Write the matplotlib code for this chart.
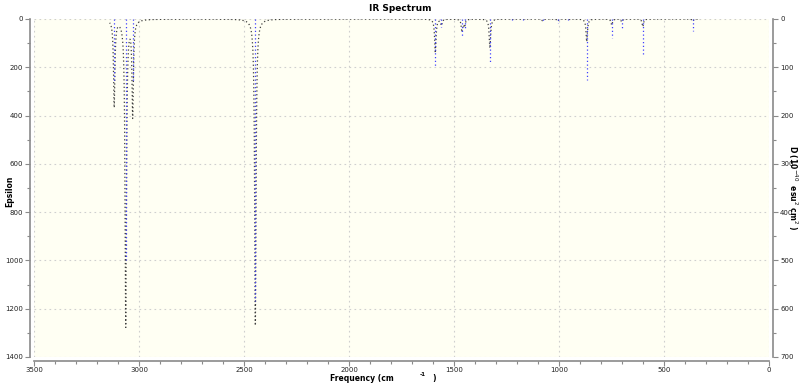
import numpy as np
import matplotlib
matplotlib.use("Agg")
import matplotlib.pyplot as plt
from matplotlib.ticker import MultipleLocator

# Broadened spectrum: peak positions (cm^-1) and peak epsilon (left axis)
curve_freq = [3118, 3063, 3030, 2446, 1589, 1560, 1462, 1450, 1329, 1225,
              1173, 1078, 1006, 955, 868, 749, 701, 601, 363]
curve_eps = [360, 1270, 393, 1270, 140, 25, 52, 30, 120, 3,
             3, 8, 10, 3, 94, 25, 12, 32, 10]
hwhm = 4.0
curve_range = [340, 3140]

# Stick spectrum: frequencies and dipole strengths (right axis)
stick_freq = [3118, 3063, 3030, 2446, 1589, 1560, 1462, 1450, 1329, 1225,
              1173, 1078, 1006, 955, 868, 749, 701, 601, 363]
stick_int = [130, 500, 130, 585, 99, 16, 37, 22, 92, 2,
             2, 6, 8, 2, 126, 40, 19, 74, 25]

fig = plt.figure(figsize=(8.0, 3.83), dpi=100)
ax = fig.add_axes([0.0425, 0.068, 0.9188, 0.8824])
ax.set_facecolor("#fffff3")

x = np.arange(curve_range[0], curve_range[1], 0.25)
y = np.zeros_like(x)
for f, e in zip(curve_freq, curve_eps):
    y += e / (1.0 + ((x - f) / hwhm) ** 2)
ax.plot(x, y, linestyle=(0, (1, 2)), color="#404040", linewidth=0.9, zorder=3)

ax.set_xlim(3500, 0)
ax.set_ylim(1400, 0)

ax2 = ax.twinx()
ax2.set_ylim(700, 0)
ax2.vlines(stick_freq, 0, stick_int, colors="#4040ff", linestyles=[(0, (1, 2))],
           linewidth=0.9, zorder=4)

grid_kw = dict(color="#cfcfcf", linestyle=(0, (1.5, 3)), linewidth=0.8)
ax.xaxis.set_major_locator(MultipleLocator(500))
ax.xaxis.set_minor_locator(MultipleLocator(100))
ax.yaxis.set_major_locator(MultipleLocator(200))
ax.yaxis.set_minor_locator(MultipleLocator(100))
ax2.yaxis.set_major_locator(MultipleLocator(100))
ax2.yaxis.set_minor_locator(MultipleLocator(50))
ax.grid(True, which="major", **grid_kw)
ax.set_axisbelow(True)

for a in (ax, ax2):
    for s in a.spines.values():
        s.set_color("#8a8a8a")
        s.set_linewidth(1.2)
    a.spines["top"].set_visible(False)
    a.tick_params(which="both", colors="#8a8a8a", labelcolor="#222222",
                  labelsize=5, direction="out", width=0.8)
    a.tick_params(which="major", length=3.5)
    a.tick_params(which="minor", length=2)
ax.spines["right"].set_visible(False)
ax2.spines["left"].set_visible(False)
ax2.spines["bottom"].set_visible(False)
ax.spines["left"].set_position(("outward", 3))
ax.spines["bottom"].set_position(("outward", 3))
ax2.spines["right"].set_position(("outward", 3))
ax.tick_params(axis="x", which="major", pad=1.0)
ax.tick_params(axis="y", which="major", pad=1.5)
ax2.tick_params(axis="y", which="major", pad=1.5)

fig.text(0.5, 0.978, "IR Spectrum", ha="center", va="center",
         fontsize=6.5, fontweight="bold")
fig.text(0.012, 0.5, "Epsilon", rotation=90, ha="center", va="center",
         fontsize=5.5, fontweight="bold")
fig.text(0.412, 0.011, "Frequency (cm", ha="left", va="center",
         fontsize=5.5, fontweight="bold")
fig.text(0.525, 0.023, "-1", ha="left", va="center", fontsize=4,
         fontweight="bold")
fig.text(0.540, 0.011, ")", ha="left", va="center", fontsize=5.5,
         fontweight="bold")
fig.text(0.9915, 0.51, r"D (10$^{-40}$  esu$^{2}$ cm$^{2}$ )", rotation=-90,
         ha="center", va="center", fontsize=5.5, fontweight="bold")

fig.savefig("out.png", dpi=100, facecolor="white")
